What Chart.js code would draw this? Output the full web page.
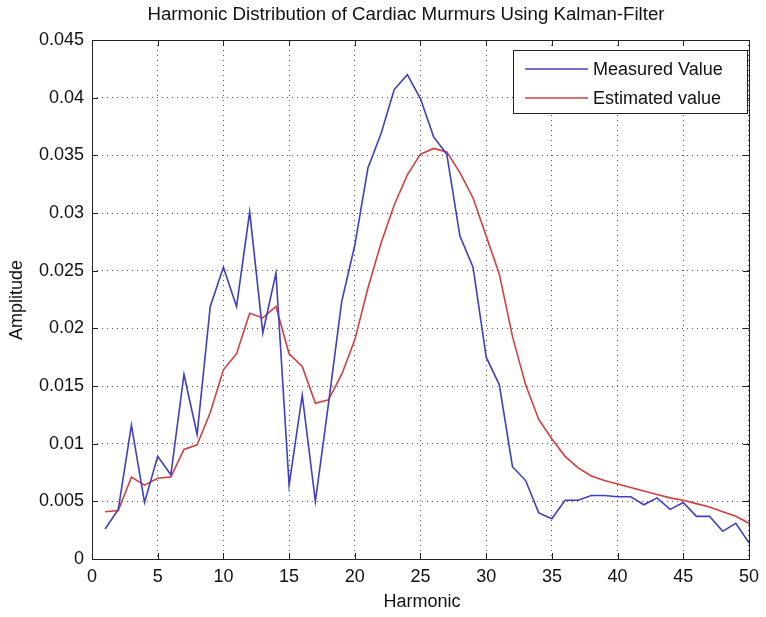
<!DOCTYPE html>
<html>
<head>
<meta charset="utf-8">
<script src="https://cdn.jsdelivr.net/npm/chart.js@4.4.1/dist/chart.umd.min.js"></script>
<style>
  html, body { margin: 0; padding: 0; background: #fff; }
  #wrap { width: 766px; height: 617px; position: relative; }
</style>
</head>
<body>
<div id="wrap"><canvas id="c" width="766" height="617"></canvas></div>
<script>
// Harmonic numbers 1..50
const harmonics = [1,2,3,4,5,6,7,8,9,10,11,12,13,14,15,16,17,18,19,20,21,22,23,24,25,26,27,28,29,30,31,32,33,34,35,36,37,38,39,40,41,42,43,44,45,46,47,48,49,50];

// Measured amplitude per harmonic
const measured = [0.0026,0.0043,0.0116,0.0049,0.0089,0.0073,0.0160,0.0108,0.0219,0.0253,
                  0.0219,0.0301,0.0196,0.0248,0.0064,0.0142,0.0050,0.0135,0.0223,0.0272,
                  0.0339,0.0369,0.0407,0.0420,0.0399,0.0366,0.0351,0.0280,0.0253,0.0175,
                  0.0151,0.0080,0.0068,0.0040,0.0035,0.0051,0.0051,0.0055,0.0055,0.0054,
                  0.0054,0.0047,0.0053,0.0043,0.0049,0.0037,0.0037,0.0024,0.0031,0.0014];

// Kalman-filter estimate per harmonic
const estimated = [0.0041,0.0042,0.0071,0.0064,0.0070,0.0071,0.0095,0.0099,0.0127,0.0164,
                   0.0178,0.0213,0.0209,0.0219,0.0178,0.0167,0.0135,0.0138,0.0160,0.0190,
                   0.0235,0.0274,0.0307,0.0333,0.0351,0.0356,0.0353,0.0335,0.0313,0.0280,
                   0.0247,0.0193,0.0151,0.0121,0.0104,0.0089,0.0079,0.0072,0.0068,0.0065,
                   0.0062,0.0059,0.0056,0.0053,0.0051,0.0048,0.0045,0.0041,0.0037,0.0031];

const xTicks = [0,5,10,15,20,25,30,35,40,45,50];
const yTicks = [0,0.005,0.01,0.015,0.02,0.025,0.03,0.035,0.04,0.045];
const yTickLabels = ['0','0.005','0.01','0.015','0.02','0.025','0.03','0.035','0.04','0.045'];

const seriesNames = ['Measured Value', 'Estimated value'];
const seriesColors = ['rgb(62,62,200)', 'rgb(214,62,62)'];
const titleText = 'Harmonic Distribution of Cardiac Murmurs Using Kalman-Filter';
const xTitle = 'Harmonic';
const yTitle = 'Amplitude';

const FONT = '"Liberation Sans", Arial, sans-serif';

function pts(vals) { return harmonics.map((h, i) => ({ x: h, y: vals[i] })); }

// Axes box, inward ticks, titles and legend in MATLAB style
const framePlugin = {
  id: 'frame',
  afterDraw(chart) {
    const { ctx, chartArea: a, scales } = chart;
    const xs = scales.x, ys = scales.y;
    ctx.save();
    ctx.setLineDash([]);
    ctx.strokeStyle = '#222';
    ctx.lineWidth = 1;
    ctx.strokeRect(Math.round(a.left) + 0.5, Math.round(a.top) + 0.5,
                   Math.round(a.right - a.left), Math.round(a.bottom - a.top));
    const tl = 6;
    ctx.beginPath();
    xTicks.forEach(v => {
      const px = Math.round(xs.getPixelForValue(v)) + 0.5;
      ctx.moveTo(px, a.bottom); ctx.lineTo(px, a.bottom - tl);
      ctx.moveTo(px, a.top); ctx.lineTo(px, a.top + tl);
    });
    yTicks.forEach(v => {
      const py = Math.round(ys.getPixelForValue(v)) + 0.5;
      ctx.moveTo(a.left, py); ctx.lineTo(a.left + tl, py);
      ctx.moveTo(a.right, py); ctx.lineTo(a.right - tl, py);
    });
    ctx.stroke();

    // titles
    ctx.fillStyle = '#111';
    ctx.textAlign = 'center';
    ctx.textBaseline = 'middle';
    ctx.font = '18.7px ' + FONT;
    ctx.fillText(titleText, 406, 15);
    ctx.font = '18px ' + FONT;
    ctx.fillText(xTitle, 422, 602);
    ctx.save();
    ctx.translate(17, 300);
    ctx.rotate(-Math.PI / 2);
    ctx.fillText(yTitle, 0, 0);
    ctx.restore();

    // legend
    const lx = 513, ly = 50, lw = 234, lh = 63;
    ctx.fillStyle = '#fff';
    ctx.fillRect(lx, ly, lw, lh);
    ctx.strokeStyle = '#222';
    ctx.strokeRect(lx + 0.5, ly + 0.5, lw, lh);
    ctx.textAlign = 'left';
    ctx.font = '18px ' + FONT;
    seriesNames.forEach((name, i) => {
      const yy = ly + 19 + i * 29;
      ctx.strokeStyle = seriesColors[i];
      ctx.lineWidth = 1.5;
      ctx.beginPath();
      ctx.moveTo(525, yy); ctx.lineTo(588, yy);
      ctx.stroke();
      ctx.fillStyle = '#111';
      ctx.fillText(name, 593, yy + 1);
    });
    ctx.restore();
  }
};

const gridOpts = { color: '#555', drawTicks: false, lineWidth: 1 };
const borderOpts = { display: false, dash: [1, 4] };

new Chart(document.getElementById('c'), {
  type: 'line',
  data: {
    datasets: [
      { label: seriesNames[0], data: pts(measured), borderColor: seriesColors[0], borderWidth: 1.6, pointRadius: 0, tension: 0, fill: false },
      { label: seriesNames[1], data: pts(estimated), borderColor: seriesColors[1], borderWidth: 1.6, pointRadius: 0, tension: 0, fill: false }
    ]
  },
  options: {
    responsive: false,
    animation: false,
    devicePixelRatio: 1,
    layout: { padding: { left: 0, top: 40, right: 14, bottom: 0 } },
    plugins: { legend: { display: false }, tooltip: { enabled: false }, title: { display: false } },
    scales: {
      x: {
        type: 'linear', min: 0, max: 50,
        afterBuildTicks(s) { s.ticks = xTicks.map(v => ({ value: v })); },
        afterFit(s) { s.height = 58; },
        grid: gridOpts,
        border: borderOpts,
        ticks: { color: '#111', font: { family: FONT, size: 18 }, padding: 7, maxRotation: 0, autoSkip: false }
      },
      y: {
        type: 'linear', min: 0, max: 0.045,
        afterBuildTicks(s) { s.ticks = yTicks.map(v => ({ value: v })); },
        afterFit(s) { s.width = 92; },
        grid: gridOpts,
        border: borderOpts,
        ticks: { color: '#111', font: { family: FONT, size: 18 }, padding: 8, autoSkip: false,
                 callback: (v, i) => yTickLabels[i] }
      }
    }
  },
  plugins: [framePlugin]
});
</script>
</body>
</html>
